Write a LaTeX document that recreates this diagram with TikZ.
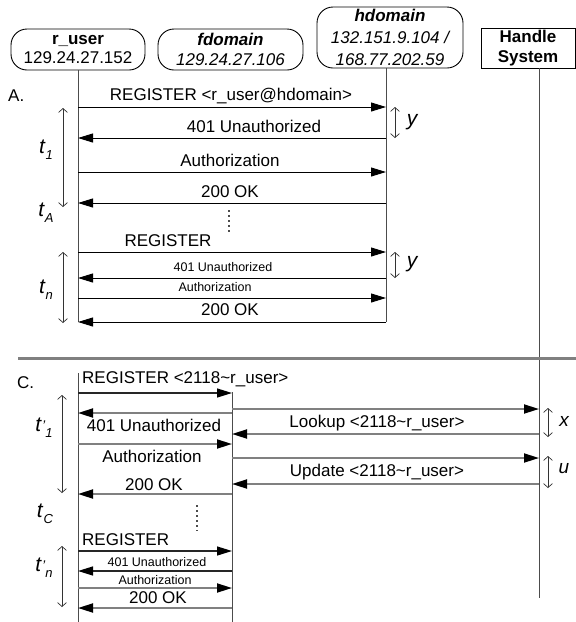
\documentclass[tikz,border=0pt]{standalone}
\usepackage{fontspec}
\setmainfont{Liberation Sans}
\usetikzlibrary{arrows.meta}
\newcommand{\tlab}[1]{\textit{t}\raisebox{-6pt}{\fontsize{13}{13}\selectfont\textit{#1}}}
\newcommand{\tlabp}[1]{\textit{t}\raisebox{1pt}{\fontsize{14}{14}\selectfont\textit{'}}\raisebox{-6pt}{\fontsize{13}{13}\selectfont\textit{#1}}}
\tikzset{
  actor/.style={draw, rounded corners=16pt, line width=0.9pt, inner sep=0pt, align=center},
  hsbox/.style={draw, line width=0.9pt, inner sep=0pt, align=center},
  life/.style={line width=1pt, draw=black!70},
  msgA/.style={line width=1pt, -{Triangle[length=15pt,width=9pt]}},
  msgC/.style={line width=1.8pt, draw=black!50, -{Triangle[length=15pt,width=9pt,color=black]}},
  msgCb/.style={line width=1.3pt, draw=black!85, -{Triangle[length=15pt,width=9pt,color=black]}},
  lbl/.style={font=\fontsize{17}{17}\selectfont, inner sep=0pt},
  smalllbl/.style={font=\fontsize{12.5}{12.5}\selectfont, inner sep=0pt},
  span/.style={line width=0.7pt, draw=black!80, {Straight Barb[length=4pt,width=9pt]}-{Straight Barb[length=4pt,width=9pt]}},
  tlbl/.style={font=\fontsize{21}{21}\selectfont, inner sep=0pt},
  dotline/.style={line width=1.3pt, dash pattern=on 1.5pt off 3.5pt, draw=black!70},
}
\begin{document}
\begin{tikzpicture}[x=1pt,y=-1pt]
\useasboundingbox (0,0) rectangle (576,622);
% actors
\node[actor, minimum width=134pt, minimum height=41pt, font=\fontsize{17}{20}\selectfont] (ruser) at (78,49.5) {\textbf{r\_user}\\129.24.27.152};
\node[actor, minimum width=145pt, minimum height=41pt, font=\fontsize{17}{20}\selectfont\itshape] (fdom) at (230.5,49.5) {\textbf{fdomain}\\129.24.27.106};
\node[actor, minimum width=146pt, minimum height=61pt, font=\fontsize{17}{22}\selectfont\itshape] (hdom) at (390,37.5) {\textbf{hdomain}\\132.151.9.104 /\\168.77.202.59};
\node[hsbox, minimum width=94pt, minimum height=40pt, font=\fontsize{17}{20}\selectfont\bfseries] (hs) at (528,48) {Handle\\System};

% lifeline anchors
\coordinate (Lu) at (78,70);
\coordinate (Lh) at (386,68);
\coordinate (Lhs) at (539,68);
\coordinate (LuC) at (78,373);
\coordinate (LfC) at (232,392);
\coordinate (LuEnd) at (78,322);
\coordinate (LhEnd) at (386,322);
\coordinate (LhsEnd) at (539,598);
\coordinate (LuCEnd) at (78,622);
\coordinate (LfCEnd) at (232,622);

\draw[life] (Lu) -- (LuEnd);
\draw[life] (Lh) -- (LhEnd);
\draw[life] (Lhs) -- (LhsEnd);
\draw[life] (LuC) -- (LuCEnd);
\draw[life] (LfC) -- (LfCEnd);

% separator
\coordinate (sepL) at (18,358);
\coordinate (sepR) at (576,358);
\draw[line width=3pt, draw=black!50] (sepL) -- (sepR);

% section labels
\node[lbl, anchor=west] (secA) at (8,96) {A.};
\node[lbl, anchor=west] (secC) at (17,383) {C.};

% ---------- Section A ----------
\draw[msgA] (Lu |- 0,107) -- (Lh |- 0,107);
\node[lbl] (a1) at (231,96) {REGISTER <r\_user@hdomain>};
\draw[msgA] (Lh |- 0,138) -- (Lu |- 0,138);
\node[lbl] (a2) at (254,126) {401 Unauthorized};
\draw[msgA] (Lu |- 0,172) -- (Lh |- 0,172);
\node[lbl] (a3) at (230,160) {Authorization};
\draw[msgA] (Lh |- 0,203) -- (Lu |- 0,203);
\node[lbl] (a4) at (230,192) {200 OK};
\coordinate (dA1) at (229,210);
\coordinate (dA2) at (229,234);
\draw[dotline] (dA1) -- (dA2);
\draw[msgA] (Lu |- 0,252) -- (Lh |- 0,252);
\node[lbl] (a5) at (168,241) {REGISTER};
\draw[msgA] (Lh |- 0,278) -- (Lu |- 0,278);
\node[smalllbl] (a6) at (223,267) {401 Unauthorized};
\draw[msgA] (Lu |- 0,298) -- (Lh |- 0,298);
\node[smalllbl] (a7) at (215,287) {Authorization};
\draw[msgA] (Lh |- 0,322) -- (Lu |- 0,322);
\node[lbl] (a8) at (230,310) {200 OK};

% timing A
\coordinate (t1a) at (63,108);
\coordinate (t1b) at (63,207);
\draw[span] (t1a) -- (t1b);
\node[tlbl] (t1) at (46,150) {\tlab{1}};
\node[tlbl] (tA) at (46,213) {\tlab{A}};
\coordinate (tna) at (63,252);
\coordinate (tnb) at (63,323);
\draw[span] (tna) -- (tnb);
\node[tlbl] (tn) at (46,290) {\tlab{n}};
\coordinate (y1a) at (395,107);
\coordinate (y1b) at (395,138);
\draw[span] (y1a) -- (y1b);
\node[tlbl, font=\fontsize{21}{21}\selectfont\itshape] (y1) at (412,122) {y};
\coordinate (y2a) at (395,252);
\coordinate (y2b) at (395,278);
\draw[span] (y2a) -- (y2b);
\node[tlbl, font=\fontsize{21}{21}\selectfont\itshape] (y2) at (412,264) {y};

% ---------- Section C ----------
\node[lbl, anchor=west] (c1) at (82,379) {REGISTER <2118\textasciitilde r\_user>};
\draw[msgCb] (LuC |- 0,393) -- (LfC |- 0,393);
\draw[msgC] (LfC |- 0,409) -- (Lhs |- 0,409);
\draw[msgC] (LfC |- 0,413) -- (LuC |- 0,413);
\node[lbl] (c2) at (154,425) {401 Unauthorized};
\draw[msgC] (Lhs |- 0,434) -- (LfC |- 0,434);
\node[lbl] (c3) at (377,423) {Lookup <2118\textasciitilde r\_user>};
\draw[msgC] (LuC |- 0,444) -- (LfC |- 0,444);
\node[lbl] (c4) at (152,456) {Authorization};
\draw[msgC] (LfC |- 0,458) -- (Lhs |- 0,458);
\draw[msgC] (Lhs |- 0,484) -- (LfC |- 0,484);
\node[lbl] (c5) at (377,472) {Update <2118\textasciitilde r\_user>};
\draw[msgC] (LfC |- 0,494) -- (LuC |- 0,494);
\node[lbl] (c6) at (154,485) {200 OK};
\coordinate (dC1) at (197,505);
\coordinate (dC2) at (197,531);
\draw[dotline] (dC1) -- (dC2);
\node[lbl, anchor=west] (c7) at (82,540) {REGISTER};
\draw[msgCb] (LuC |- 0,551) -- (LfC |- 0,551);
\node[smalllbl] (c8) at (157,562) {401 Unauthorized};
\draw[msgCb] (LfC |- 0,571) -- (LuC |- 0,571);
\node[smalllbl] (c9) at (155,580) {Authorization};
\draw[msgC] (LuC |- 0,588) -- (LfC |- 0,588);
\node[lbl] (c10) at (158,598) {200 OK};
\draw[msgC] (LfC |- 0,608) -- (LuC |- 0,608);

% timing C
\coordinate (tp1a) at (62,395);
\coordinate (tp1b) at (62,493);
\draw[span] (tp1a) -- (tp1b);
\node[tlbl] (tp1) at (44,428) {\tlabp{1}};
\node[tlbl] (tC) at (45,514) {\tlab{C}};
\coordinate (tpna) at (62,546);
\coordinate (tpnb) at (62,607);
\draw[span] (tpna) -- (tpnb);
\node[tlbl] (tpn) at (44,568) {\tlabp{n}};
\coordinate (xa) at (548,408);
\coordinate (xb) at (548,437);
\draw[span] (xa) -- (xb);
\node[tlbl, font=\fontsize{19}{19}\selectfont\itshape] (xl) at (564,421) {x};
\coordinate (ua) at (548,456);
\coordinate (ub) at (548,488);
\draw[span] (ua) -- (ub);
\node[tlbl, font=\fontsize{19}{19}\selectfont\itshape] (ul) at (564,469) {u};
\end{tikzpicture}
\end{document}
